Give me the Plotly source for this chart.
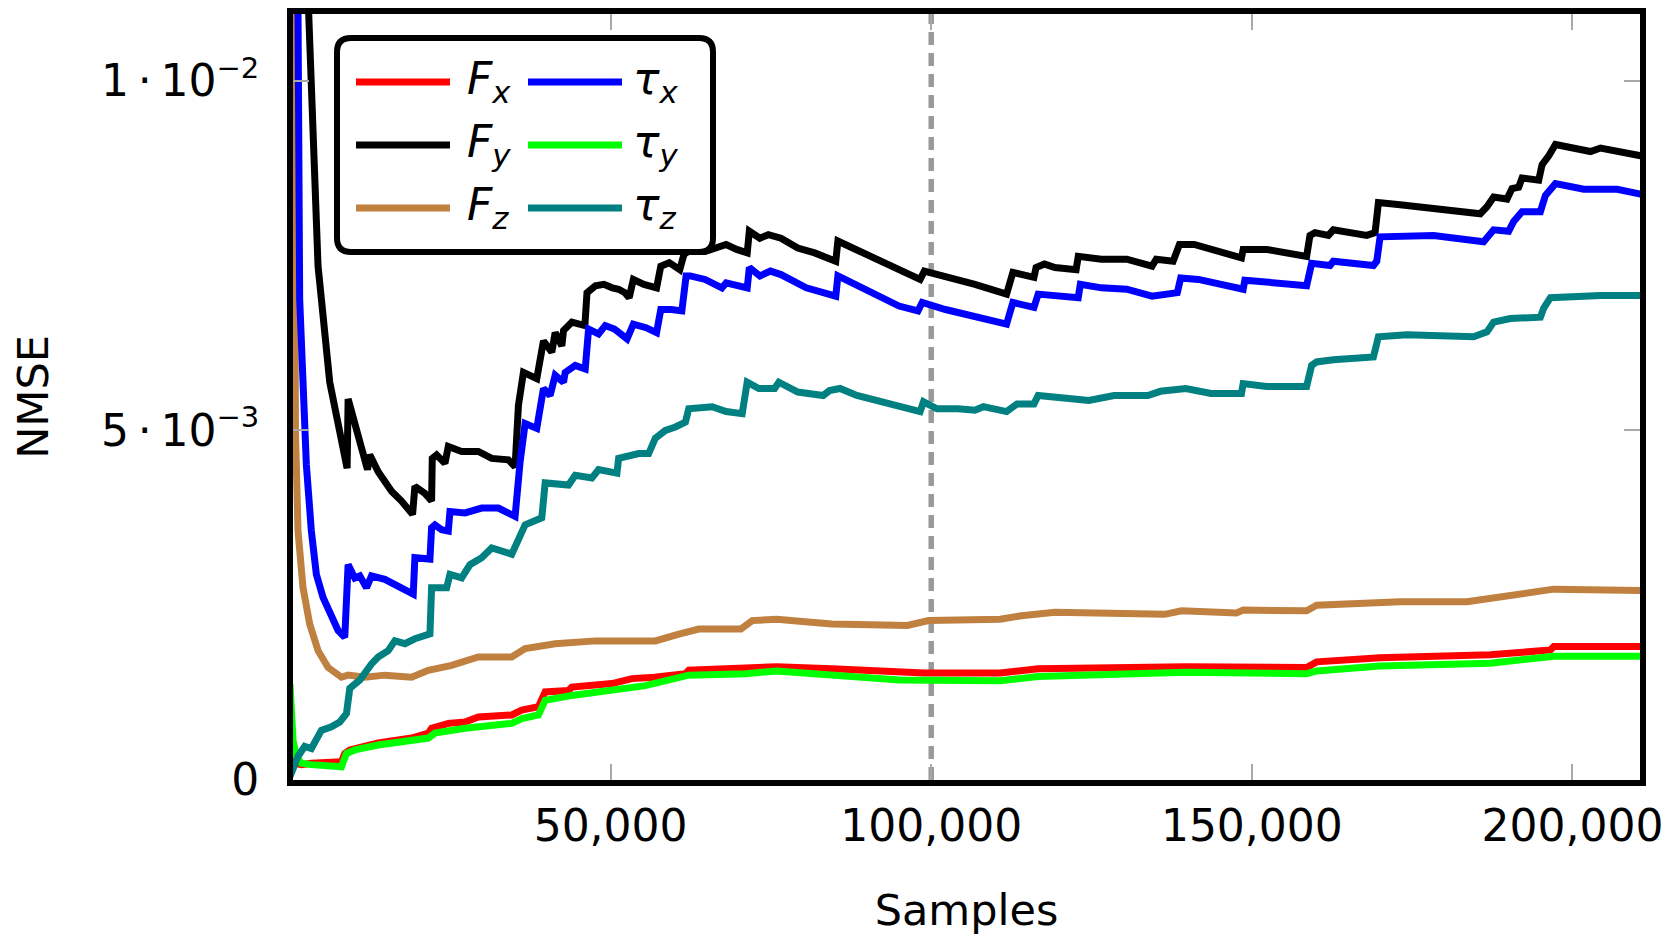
import plotly.graph_objects as go

# ---------------- data (y values in units of 1e-3) ----------------
SCALE = 1e-3

FX = [(0, 0.48), (400, 0.30), (729, 0.24), (1771, 0.22), (3333, 0.24), (8021, 0.26), (8541, 0.38),
      (9323, 0.43), (13749, 0.53), (18957, 0.60), (21561, 0.67), (22082, 0.74), (24686, 0.81),
      (27290, 0.83), (29373, 0.90), (34581, 0.93), (36144, 1.00), (38748, 1.05), (39790, 1.26),
      (43436, 1.28), (43957, 1.33), (50207, 1.38), (53332, 1.45), (56837, 1.47), (61665, 1.52),
      (62185, 1.57), (70647, 1.59), (75907, 1.62), (84456, 1.59), (98923, 1.53), (110760, 1.53),
      (116678, 1.59), (139694, 1.62), (148111, 1.61), (158541, 1.61), (160104, 1.69), (170000, 1.75),
      (187187, 1.79), (196562, 1.86), (197083, 1.91), (210624, 1.91)]

FY = [(0, 60.0), (1500, 20.0), (2900, 11.0), (4375, 7.35), (4896, 6.88), (6198, 5.69), (7760, 4.98),
      (8906, 4.46), (9062, 5.45), (10364, 4.98), (12083, 4.44), (12447, 4.65), (13749, 4.41),
      (15832, 4.13), (17395, 3.99), (19113, 3.80), (19478, 4.20), (21040, 4.10), (22082, 3.99),
      (22186, 4.60), (22863, 4.65), (24165, 4.53), (24686, 4.77), (26769, 4.70), (29373, 4.70),
      (31456, 4.60), (34060, 4.58), (35102, 4.48), (35623, 5.36), (36404, 5.83), (38487, 5.74),
      (39529, 6.28), (40831, 6.12), (41352, 6.40), (42394, 6.21), (42655, 6.43), (43957, 6.55),
      (45986, 6.50), (46315, 6.97), (47630, 7.07), (48946, 7.09), (50261, 7.04), (51247, 7.02),
      (52234, 6.97), (52891, 6.90), (53549, 7.16), (55193, 7.09), (57166, 7.04), (57823, 7.35),
      (59138, 7.40), (60782, 7.30), (61440, 7.52), (62098, 7.56), (64728, 7.56), (66043, 7.59),
      (68016, 7.66), (69660, 7.59), (71304, 7.54), (71633, 7.85), (73277, 7.75), (74592, 7.80),
      (76565, 7.75), (79195, 7.61), (81826, 7.54), (85114, 7.42), (85442, 7.71), (87744, 7.61),
      (91032, 7.47), (94978, 7.28), (98266, 7.16), (98923, 7.28), (102211, 7.21), (106814, 7.09),
      (111746, 6.95), (112732, 7.26), (116020, 7.19), (116349, 7.33), (117664, 7.38), (119308, 7.33),
      (122597, 7.30), (122926, 7.49), (126542, 7.45), (130488, 7.45), (134433, 7.35), (135091, 7.45),
      (137721, 7.42), (138707, 7.66), (141009, 7.66), (144954, 7.55), (148385, 7.47), (148646, 7.59),
      (152291, 7.59), (158541, 7.49), (159062, 7.79), (159843, 7.83), (161927, 7.79), (162708, 7.87),
      (167916, 7.79), (169218, 7.83), (169739, 8.26), (173124, 8.23), (178333, 8.17), (185625, 8.10),
      (186666, 8.20), (187708, 8.34), (189791, 8.31), (190572, 8.46), (191614, 8.48), (192135, 8.61),
      (194739, 8.58), (195260, 8.80), (196301, 8.93), (197343, 9.09), (202812, 8.99), (204374, 9.04),
      (210624, 8.93)]

FZ = [(0, 30.0), (470, 11.0), (625, 6.88), (850, 4.98), (1250, 3.56), (2031, 2.75), (3073, 2.23),
      (4375, 1.85), (5937, 1.61), (8021, 1.47), (9062, 1.50), (11666, 1.47), (14791, 1.50),
      (18957, 1.47), (21561, 1.57), (25207, 1.64), (29373, 1.76), (34581, 1.76), (36665, 1.88),
      (39790, 1.92), (41352, 1.95), (47602, 1.99), (56977, 1.99), (60782, 2.09), (63748, 2.16),
      (70318, 2.16), (72082, 2.28), (75907, 2.30), (84456, 2.23), (96293, 2.21), (99581, 2.28),
      (110760, 2.30), (114048, 2.35), (119308, 2.40), (136406, 2.37), (139036, 2.42), (147604, 2.39),
      (148646, 2.43), (158541, 2.42), (160104, 2.50), (167916, 2.52), (173124, 2.55), (183541, 2.55),
      (187708, 2.61), (191874, 2.66), (197083, 2.73), (210624, 2.71)]

TX = [(0, 50.0), (800, 18.0), (1250, 11.0), (1510, 6.88), (2031, 5.45), (2552, 4.51), (3333, 3.56),
      (4114, 2.94), (5156, 2.61), (6458, 2.33), (7500, 2.14), (8541, 2.04), (9062, 3.08), (10104, 2.89),
      (10885, 2.92), (11927, 2.75), (12708, 2.92), (14791, 2.87), (16093, 2.80), (17655, 2.73),
      (19218, 2.66), (19478, 3.18), (21822, 3.16), (22082, 3.61), (22603, 3.65), (23645, 3.58),
      (24686, 3.56), (24947, 3.84), (27290, 3.82), (29894, 3.89), (32498, 3.89), (35102, 3.77),
      (35519, 4.32), (35883, 4.55), (36665, 5.10), (38487, 5.03), (39529, 5.60), (40570, 5.50),
      (41352, 5.79), (42655, 5.69), (42915, 5.83), (44478, 5.93), (46040, 5.88), (46561, 6.45),
      (48123, 6.38), (49165, 6.50), (50600, 6.45), (52234, 6.35), (52562, 6.31), (53549, 6.52),
      (55522, 6.47), (57166, 6.40), (57823, 6.73), (59467, 6.73), (61111, 6.71), (61769, 7.21),
      (62427, 7.21), (64728, 7.16), (67358, 7.04), (68016, 7.11), (71304, 7.04), (71633, 7.33),
      (73277, 7.21), (74921, 7.28), (76565, 7.23), (80510, 7.04), (85114, 6.92), (85442, 7.21),
      (87744, 7.11), (94978, 6.78), (97937, 6.71), (98594, 6.83), (102211, 6.73), (107472, 6.62),
      (111746, 6.52), (112732, 6.83), (116020, 6.76), (116678, 6.95), (119308, 6.92), (122926, 6.90),
      (123254, 7.09), (126542, 7.04), (130488, 7.02), (134433, 6.92), (138378, 6.97), (138904, 7.18),
      (141667, 7.16), (145000, 7.09), (148646, 7.02), (148906, 7.15), (152291, 7.12), (158541, 7.07),
      (159323, 7.39), (162187, 7.36), (162708, 7.42), (168958, 7.36), (169479, 7.42), (170000, 7.77),
      (178333, 7.79), (186145, 7.70), (187708, 7.87), (190051, 7.85), (190833, 7.99), (192135, 8.13),
      (194999, 8.13), (195781, 8.36), (197343, 8.53), (201770, 8.45), (206979, 8.45), (210624, 8.38)]

TY = [(0, 1.37), (469, 0.57), (990, 0.34), (1771, 0.24), (3333, 0.22), (8021, 0.19), (8802, 0.38),
      (10104, 0.43), (13749, 0.50), (18957, 0.57), (21561, 0.60), (22603, 0.67), (27290, 0.74),
      (34581, 0.81), (36144, 0.88), (38748, 0.93), (39790, 1.14), (43957, 1.21), (50207, 1.28),
      (55415, 1.35), (62185, 1.50), (71040, 1.52), (75907, 1.56), (84456, 1.50), (94978, 1.43),
      (110760, 1.42), (116678, 1.48), (139694, 1.54), (148111, 1.52), (158541, 1.52), (160104, 1.56),
      (170000, 1.63), (187187, 1.67), (197083, 1.77), (210624, 1.77)]

TZ = [(0, 0.05), (469, 0.14), (1250, 0.34), (2291, 0.48), (3333, 0.45), (4896, 0.71), (6458, 0.76),
      (7760, 0.83), (8802, 0.95), (9323, 1.31), (10885, 1.43), (12708, 1.66), (13749, 1.76),
      (15311, 1.85), (16353, 1.99), (17916, 1.95), (19478, 2.02), (21822, 2.09), (22082, 2.75),
      (24426, 2.75), (24947, 2.94), (26769, 2.89), (28071, 3.08), (29894, 3.18), (31456, 3.32),
      (34581, 3.23), (35623, 3.46), (36665, 3.65), (39269, 3.75), (39790, 4.25), (43436, 4.22),
      (44478, 4.36), (47081, 4.32), (48123, 4.44), (50988, 4.39), (51248, 4.60), (54373, 4.67),
      (55936, 4.67), (56977, 4.89), (58540, 5.00), (60102, 5.05), (61665, 5.12), (62185, 5.31),
      (65831, 5.34), (68016, 5.27), (70519, 5.24), (71300, 5.69), (73123, 5.60), (75578, 5.60),
      (76236, 5.69), (79195, 5.55), (83141, 5.50), (84127, 5.57), (85771, 5.60), (88402, 5.50),
      (94320, 5.36), (98266, 5.27), (98792, 5.41), (100896, 5.31), (104184, 5.31), (106814, 5.29),
      (108130, 5.34), (111746, 5.27), (113390, 5.38), (116020, 5.38), (116678, 5.50), (120624, 5.46),
      (124569, 5.43), (128515, 5.50), (133776, 5.50), (135749, 5.56), (139694, 5.60), (143640, 5.53),
      (148385, 5.53), (148646, 5.67), (152291, 5.63), (158541, 5.63), (159323, 5.93), (160104, 5.98),
      (162708, 6.01), (168958, 6.05), (169739, 6.34), (174166, 6.37), (184583, 6.34), (186666, 6.41),
      (187708, 6.55), (190312, 6.60), (194999, 6.62), (195520, 6.75), (196562, 6.90), (204374, 6.93),
      (210624, 6.93)]

SERIES_NAMES = ["<i>F<sub>x</sub></i>", "<i>F<sub>y</sub></i>", "<i>F<sub>z</sub></i>",
                "<i>τ<sub>x</sub></i>", "<i>τ<sub>y</sub></i>", "<i>τ<sub>z</sub></i>"]
SERIES_DATA = [FX, FY, FZ, TX, TY, TZ]
SERIES_COLORS = ["#ff0000", "#000000", "#bf8040", "#0000ff", "#00ff00", "#008080"]

X_TICKS = [50000, 100000, 150000, 200000]
Y_TICKS = [0, 0.005, 0.01]
SUP = '<sup><span style="font-size:29px">{}</span></sup>'
Y_TICKTEXT = ["0", "5\u2009·\u200910" + SUP.format("−3"), "1\u2009·\u200910" + SUP.format("−2")]
DIVIDER_X = 100000
X_LIMITS = (0, 211000)
Y_LIMITS = (0, 0.011)

# ---------------- figure ----------------
FONT = "DejaVu Sans"
OFF = 8                       # page body margin of the html page
W, H = 1671 - OFF, 936 - OFF
ML, MR, MT, MB = 285, 31, 6, 156
PW, PH = W - ML - MR, H - MT - MB
FRAME = 6
HALF = FRAME / 2

# the frame of the reference is centred on the data limits; plotly draws it outside
dx = (X_LIMITS[1] - X_LIMITS[0]) / (PW + FRAME) * HALF
dy = (Y_LIMITS[1] - Y_LIMITS[0]) / (PH + HALF) * HALF

LEGEND_TEXT = '{}<span style="font-size:44px">{}</span>'

fig = go.Figure()
for i, (name, pts, col) in enumerate(zip(SERIES_NAMES, SERIES_DATA, SERIES_COLORS)):
    pad = "\u2009\u2009" if i < 3 else "\u2009"
    fig.add_trace(go.Scatter(
        x=[p[0] for p in pts], y=[p[1] * SCALE for p in pts],
        mode="lines", name=LEGEND_TEXT.format(pad, name), line=dict(color=col, width=7),
        legend="legend" if i < 3 else "legend2", legendgroup=f"g{i}",
    ))

fig.add_shape(type="line", xref="x", yref="paper", x0=DIVIDER_X, x1=DIVIDER_X, y0=0, y1=1,
              line=dict(color="#999999", width=5.5, dash="13px,8px"), layer="below")


def px2paper(xp, yp):
    """full-window pixel -> paper coordinates"""
    return (xp - OFF - ML) / PW, 1 - (yp - OFF - MT) / PH


# rounded legend box
bx0, by1 = px2paper(337, 38)
bx1, by0 = px2paper(713, 252)
rx, ry = 14 / PW, 14 / PH
path = (f"M{bx0+rx},{by1} L{bx1-rx},{by1} Q{bx1},{by1} {bx1},{by1-ry} L{bx1},{by0+ry} "
        f"Q{bx1},{by0} {bx1-rx},{by0} L{bx0+rx},{by0} Q{bx0},{by0} {bx0},{by0+ry} "
        f"L{bx0},{by1-ry} Q{bx0},{by1} {bx0+rx},{by1} Z")
fig.add_shape(type="path", xref="paper", yref="paper", path=path,
              line=dict(color="black", width=6), fillcolor="white", layer="above")

lx1, ly = px2paper(351, 56)
lx2, _ = px2paper(523, 56)
leg_common = dict(font=dict(family=FONT, size=30, color="black"), bgcolor="rgba(0,0,0,0)",
                  borderwidth=0, itemwidth=94, yanchor="top", xanchor="left",
                  tracegroupgap=21, orientation="v")
axis_common = dict(showline=True, linecolor="black", linewidth=FRAME, mirror="allticks",
                   ticks="inside", ticklen=16, tickwidth=1.5, tickcolor="#a8a8a8",
                   showgrid=False, zeroline=False,
                   tickfont=dict(family=FONT, size=44, color="black"))

fig.update_layout(
    width=W, height=H,
    margin=dict(l=ML, r=MR, t=MT, b=MB, autoexpand=False),
    paper_bgcolor="white", plot_bgcolor="white",
    font=dict(family=FONT, size=44, color="black"),
    showlegend=True,
    legend=dict(x=lx1, y=ly, **leg_common),
    legend2=dict(x=lx2, y=ly, **leg_common),
    xaxis=dict(range=[X_LIMITS[0] + dx, X_LIMITS[1] - dx], tickvals=X_TICKS, tickformat=",d",
               title=dict(text="Samples", font=dict(family=FONT, size=43), standoff=47),
               ticklabelstandoff=2, **axis_common),
    yaxis=dict(range=[Y_LIMITS[0], Y_LIMITS[1] - dy], tickvals=Y_TICKS, ticktext=Y_TICKTEXT,
               title=dict(text="NMSE", font=dict(family=FONT, size=43), standoff=64),
               ticklabelstandoff=19, **axis_common),
)

fig.write_html("out.html")
